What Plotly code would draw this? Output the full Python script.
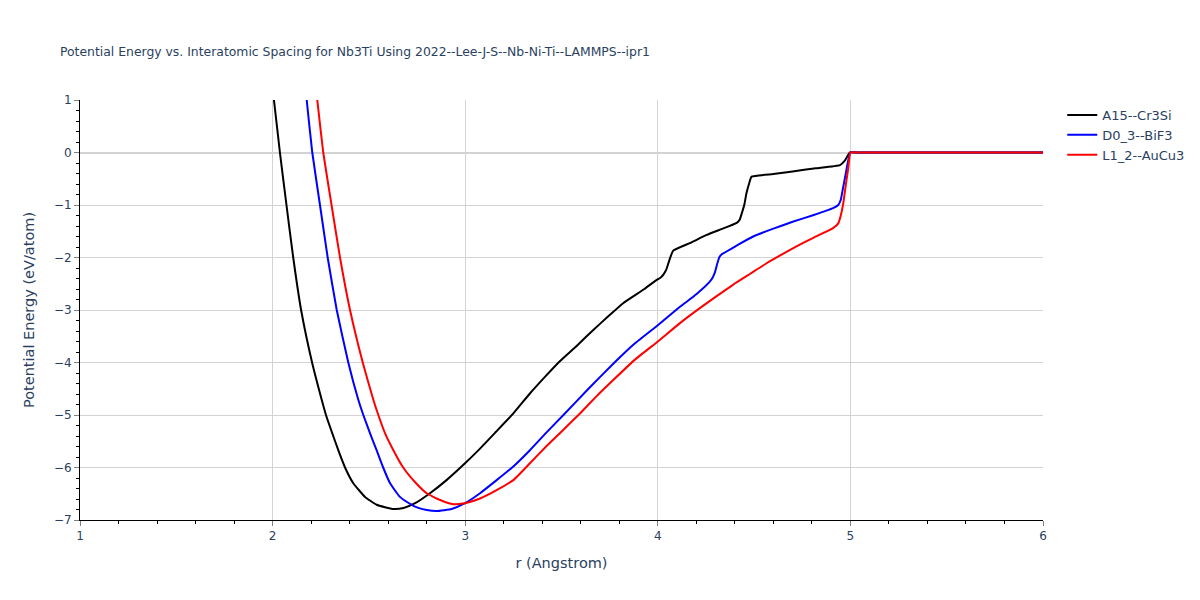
import plotly.graph_objects as go

# A15--Cr3Si
r_a15 = [1.994, 2.007, 2.038, 2.072, 2.107, 2.148, 2.205, 2.255, 2.277, 2.31, 2.341, 2.376, 2.419,
         2.48, 2.54, 2.627, 2.68, 2.74, 2.817, 2.9, 2.999, 3.077, 3.16, 3.25, 3.336, 3.42, 3.49,
         3.58, 3.665, 3.74, 3.82, 3.93, 3.985, 4.015, 4.03, 4.045, 4.06, 4.08, 4.17, 4.254, 4.33,
         4.41, 4.425, 4.436, 4.45, 4.46, 4.475, 4.487, 4.6, 4.7, 4.82, 4.946, 4.97, 4.998, 5.04,
         5.1, 5.5, 6.0]
e_a15 = [1.4, 1.0, 0.0, -1.0, -2.0, -3.0, -4.0, -4.71, -5.0, -5.35, -5.67, -6.0, -6.3,
         -6.56, -6.71, -6.79, -6.77, -6.68, -6.49, -6.25, -5.92, -5.64, -5.32, -4.97, -4.59, -4.25, -3.98,
         -3.68, -3.38, -3.13, -2.87, -2.6, -2.45, -2.38, -2.32, -2.22, -2.05, -1.87, -1.72, -1.57, -1.46,
         -1.34, -1.28, -1.16, -0.98, -0.78, -0.58, -0.46, -0.41, -0.36, -0.3, -0.24, -0.16, 0.0, 0.0,
         0.0, 0.0, 0.0]

# D0_3--BiF3
r_d03 = [2.172, 2.177, 2.206, 2.246, 2.286, 2.333, 2.393, 2.445, 2.471, 2.506, 2.54, 2.574, 2.61,
         2.661, 2.722, 2.75, 2.8, 2.852, 2.93, 2.999, 3.077, 3.16, 3.25, 3.336, 3.42, 3.51, 3.64,
         3.77, 3.88, 4.0, 4.115, 4.2, 4.27, 4.285, 4.297, 4.31, 4.32, 4.335, 4.35, 4.42, 4.495,
         4.6, 4.7, 4.81, 4.91, 4.937, 4.95, 4.96, 4.975, 5.0, 5.04, 5.1, 5.5, 6.0]
e_d03 = [1.2, 1.0, 0.0, -1.0, -2.0, -3.0, -4.0, -4.71, -5.0, -5.35, -5.67, -6.0, -6.3,
         -6.56, -6.71, -6.76, -6.81, -6.83, -6.79, -6.68, -6.49, -6.25, -5.98, -5.67, -5.34, -5.0, -4.5,
         -4.02, -3.64, -3.29, -2.94, -2.7, -2.46, -2.38, -2.28, -2.1, -1.99, -1.93, -1.9, -1.75, -1.6,
         -1.45, -1.32, -1.19, -1.06, -1.0, -0.9, -0.71, -0.42, 0.0, 0.0, 0.0, 0.0, 0.0]

# L1_2--AuCu3
r_l12 = [2.226, 2.232, 2.263, 2.306, 2.35, 2.402, 2.468, 2.523, 2.549, 2.584, 2.627, 2.678, 2.745,
         2.8, 2.87, 2.938, 3.0, 3.077, 3.163, 3.25, 3.336, 3.42, 3.51, 3.596, 3.68, 3.77, 3.88,
         4.0, 4.115, 4.22, 4.3, 4.39, 4.48, 4.565, 4.64, 4.72, 4.81, 4.91, 4.937, 4.95, 4.963,
         4.975, 4.99, 5.0, 5.04, 5.1, 5.5, 6.0]
e_l12 = [1.2, 1.0, 0.0, -1.0, -2.0, -3.0, -4.0, -4.71, -5.0, -5.35, -5.67, -6.0, -6.3,
         -6.49, -6.62, -6.7, -6.68, -6.59, -6.43, -6.24, -5.92, -5.6, -5.28, -4.97, -4.65, -4.33, -3.95,
         -3.6, -3.25, -2.96, -2.75, -2.52, -2.31, -2.11, -1.95, -1.79, -1.62, -1.44, -1.35, -1.2, -0.97,
         -0.65, -0.27, 0.0, 0.0, 0.0, 0.0, 0.0]

fig = go.Figure()
fig.add_trace(go.Scatter(x=r_a15, y=e_a15, mode="lines", name="A15--Cr3Si",
                         line=dict(color="black", width=2, shape="spline", smoothing=0.4)))
fig.add_trace(go.Scatter(x=r_d03, y=e_d03, mode="lines", name="D0_3--BiF3",
                         line=dict(color="blue", width=2, shape="spline", smoothing=0.4)))
fig.add_trace(go.Scatter(x=r_l12, y=e_l12, mode="lines", name="L1_2--AuCu3",
                         line=dict(color="red", width=2, shape="spline", smoothing=0.4)))

# page body has an 8px margin, so margins are shifted to keep the plot area in place
fig.update_layout(
    title=dict(text="Potential Energy vs. Interatomic Spacing for Nb3Ti Using 2022--Lee-J-S--Nb-Ni-Ti--LAMMPS--ipr1",
               font=dict(size=12.4), x=52 / 1200, y=0.935),
    font=dict(family="Verdana, DejaVu Sans, sans-serif"),
    template="plotly_white",
    width=1200, height=600,
    margin=dict(l=72, r=165, t=92, b=88),
    legend=dict(x=1.02, y=1, font=dict(size=13)),
)
fig.update_xaxes(title_text="r (Angstrom)", title_font_size=14.5, range=[1, 6], dtick=1,
                 showline=True, linecolor="black", ticks="outside", tickcolor="gray",
                 minor=dict(dtick=0.2, ticks="outside", tickcolor="black", showgrid=False),
                 gridcolor="lightgray", zeroline=False)
fig.update_yaxes(title_text="Potential Energy (eV/atom)", title_font_size=14.5, range=[-7, 1], dtick=1,
                 showline=True, linecolor="black", ticks="outside", tickcolor="gray",
                 minor=dict(dtick=0.2, ticks="outside", tickcolor="black", showgrid=False),
                 gridcolor="lightgray", zeroline=True, zerolinecolor="lightgray", zerolinewidth=2)

fig.write_html("out.html")
